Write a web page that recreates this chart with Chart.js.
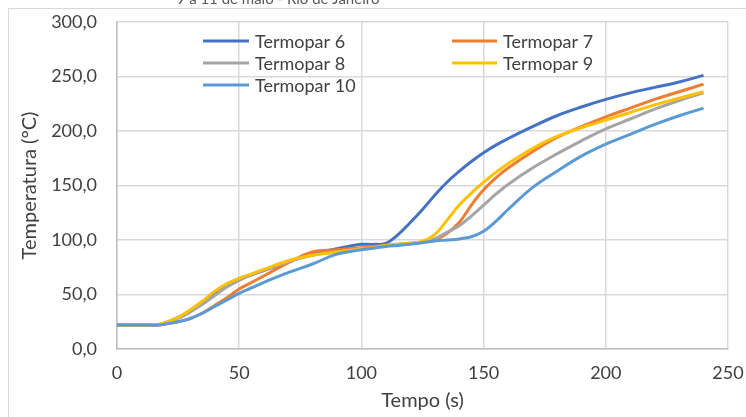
<!DOCTYPE html>
<html>
<head>
<meta charset="utf-8">
<script src="https://cdn.jsdelivr.net/npm/chart.js@4/dist/chart.umd.min.js"></script>
<style>
  html, body { margin: 0; padding: 0; background: #fff; }
  #wrap { position: relative; width: 746px; height: 417px; overflow: hidden; }
  #frame { position: absolute; left: 8px; top: 8px; width: 800px; height: 500px; border: 1px solid #d9d9d9; box-sizing: border-box; }
  canvas { position: absolute; left: 0; top: 0; }
</style>
</head>
<body>
<div id="wrap">
  <div id="frame"></div>
  <canvas id="c" width="746" height="417"></canvas>
</div>
<script>
const chartTitle = "9 a 11 de maio - Rio de Janeiro";
const xTitle = "Tempo (s)";
const yTitle = "Temperatura (°C)";
const seriesNames = ["Termopar 6", "Termopar 7", "Termopar 8", "Termopar 9", "Termopar 10"];
const seriesColors = ["#4472C4", "#ED7D31", "#A5A5A5", "#FFC000", "#5B9BD5"];

const tempo = [0, 10, 17, 20, 25, 30, 35, 40, 45, 50, 55, 60, 70, 80, 90, 100, 105, 110, 115, 120, 125, 130, 135, 140, 145, 150, 155, 160, 170, 180, 190, 200, 210, 220, 230, 240];

const termopar6  = [22, 22, 22.5, 24, 29, 35, 43, 51, 58, 64, 68, 72, 80, 87, 92, 96, 96, 97, 105, 116, 128, 141, 153, 163, 172, 180, 187, 193, 204, 214, 222, 229, 235, 240, 245, 251];
const termopar7  = [22, 22, 22, 23, 25, 28, 33, 40, 47, 55, 61, 67, 79, 89, 91, 93, 94, 95, 96, 97, 98, 100, 106, 116, 132, 146, 157, 166, 181, 194, 204, 213, 221, 229, 236, 243];
const termopar8  = [22, 22, 22.5, 24, 28, 34, 41, 49, 57, 63, 68, 72, 80, 86, 89, 92, 93, 95, 96, 97, 98, 101, 107, 113, 122, 132, 142, 151, 166, 179, 191, 202, 211, 220, 228, 235];
const termopar9  = [22, 22, 22.5, 24.5, 29, 36, 44, 53, 60, 65, 69, 73, 81, 86, 89, 92, 93, 95, 96, 97, 99, 105, 118, 132, 143, 153, 162, 170, 184, 195, 203, 210, 217, 224, 230, 236];
const termopar10 = [22, 22, 22, 23, 25, 28, 33, 39, 45, 51, 56, 61, 70, 78, 87, 91, 92.5, 94, 95, 96, 97.5, 99, 100, 101, 103, 108, 117, 128, 148, 163, 177, 188, 197, 206, 214, 221];

const allSeries = [termopar6, termopar7, termopar8, termopar9, termopar10];

const xTicks = [0, 50, 100, 150, 200, 250];
const yTicks = [0, 50, 100, 150, 200, 250, 300];

const FONT = "Lato, 'Noto Sans', sans-serif";
const TEXT = "#404040";

const datasets = allSeries.map((vals, i) => ({
  label: seriesNames[i],
  data: tempo.map((t, k) => ({ x: t, y: vals[k] })),
  borderColor: seriesColors[i],
  backgroundColor: seriesColors[i],
  borderWidth: 3,
  pointRadius: 0,
  fill: false,
  tension: 0.4,
  order: allSeries.length - 1 - i
}));

const legendPlugin = {
  id: 'customLegend',
  afterDraw(chart) {
    const ctx = chart.ctx;
    const cols = [{ lx0: 203, lx1: 249, tx: 255 }, { lx0: 452, lx1: 497, tx: 503 }];
    const rows = [41, 63, 85];
    ctx.save();
    ctx.font = "18px " + FONT;
    ctx.textBaseline = 'middle';
    chart.data.datasets.forEach((ds, i) => {
      const c = cols[i % 2];
      const y = rows[Math.floor(i / 2)];
      ctx.strokeStyle = ds.borderColor;
      ctx.lineWidth = 3;
      ctx.beginPath();
      ctx.moveTo(c.lx0, y);
      ctx.lineTo(c.lx1, y);
      ctx.stroke();
      ctx.fillStyle = TEXT;
      ctx.fillText(ds.label, c.tx, y + 1);
    });
    ctx.restore();
  }
};

const titlePlugin = {
  id: 'cutTitle',
  afterDraw(chart) {
    const ctx = chart.ctx;
    ctx.save();
    ctx.font = "15px " + FONT;
    ctx.fillStyle = "#595959";
    ctx.textAlign = 'center';
    ctx.textBaseline = 'alphabetic';
    ctx.fillText(chartTitle, 278, 4);
    ctx.restore();
  }
};

new Chart(document.getElementById('c'), {
  type: 'line',
  data: { datasets },
  options: {
    responsive: false,
    animation: false,
    events: [],
    layout: { padding: { left: 0, right: 18, top: 22, bottom: 0 } },
    plugins: { legend: { display: false }, tooltip: { enabled: false }, title: { display: false } },
    scales: {
      x: {
        type: 'linear',
        min: 0, max: 250,
        afterBuildTicks(s) { s.ticks = xTicks.map(v => ({ value: v })); },
        afterFit(s) { s.height = 68; s.paddingLeft = 0; s.paddingRight = 0; },
        grid: { color: '#d9d9d9', lineWidth: 1.5, drawTicks: false },
        border: { color: '#bfbfbf', width: 1.5 },
        ticks: { color: TEXT, font: { family: FONT, size: 18 }, padding: 13, maxRotation: 0, callback: v => String(v) },
        title: { display: true, text: xTitle, color: TEXT, font: { family: FONT, size: 20 }, padding: { top: 0, bottom: 4 } }
      },
      y: {
        type: 'linear',
        min: 0, max: 300,
        afterBuildTicks(s) { s.ticks = yTicks.map(v => ({ value: v })); },
        afterFit(s) { s.width = 117; s.paddingTop = 0; s.paddingBottom = 0; },
        grid: { color: '#d9d9d9', lineWidth: 1.5, drawTicks: false },
        border: { color: '#bfbfbf', width: 1.5 },
        ticks: { color: TEXT, font: { family: FONT, size: 18 }, padding: 20, callback: v => v.toFixed(1).replace('.', ',') },
        title: { display: true, text: yTitle, color: TEXT, font: { family: FONT, size: 20 }, padding: { top: 18, bottom: 0 } }
      }
    }
  },
  plugins: [legendPlugin, titlePlugin]
});
</script>
</body>
</html>
